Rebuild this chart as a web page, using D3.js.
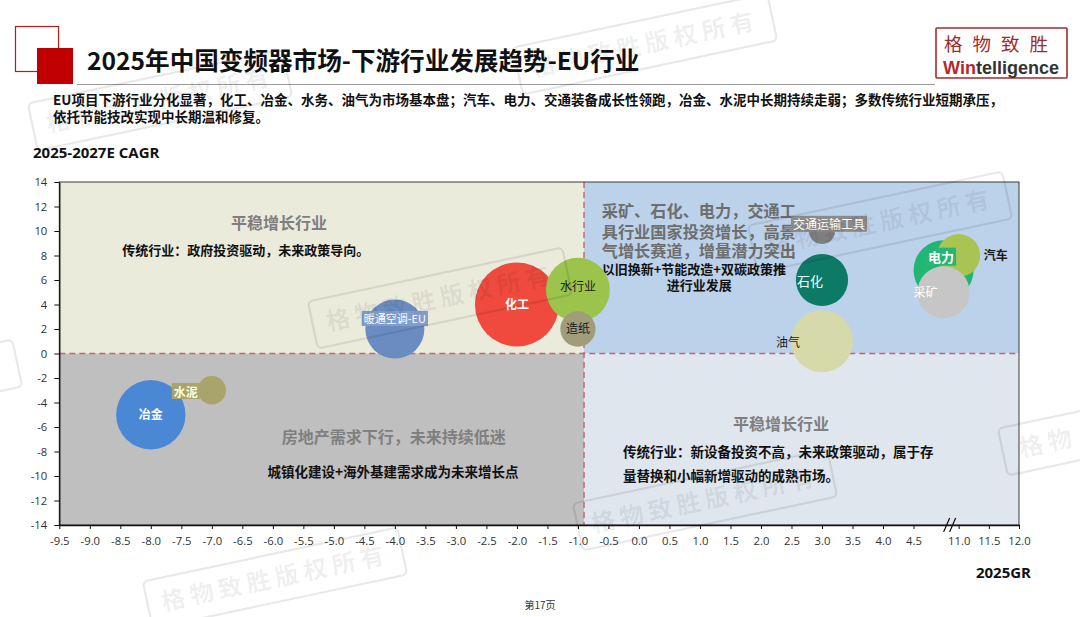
<!DOCTYPE html>
<html><head><meta charset="utf-8">
<script src="https://cdn.jsdelivr.net/npm/d3@7/dist/d3.min.js"></script>
<style>
html,body{margin:0;padding:0;background:#fff;}
svg{display:block;}
</style></head>
<body>
<svg id="chart" width="1080" height="617"></svg>
<script>
// ---------- DATA ----------
const categories = ["冶金","水泥","暖通空调-EU","化工","水行业","造纸","交通运输工具","石化","油气","电力","汽车","采矿"];
const gr2025 =     [-8.0, -7.0, -4.0, -2.0, -1.0, -1.0, 3.0, 3.0, 3.0, 10.75, 11.0, 10.75];
const cagr2527 =   [-5.0, -3.0,  2.0,  4.0,  5.2,  2.0, 10.0, 6.0, 1.0, 6.8, 8.0, 5.0];
const bubbleSize = [120, 20, 87, 176, 102, 31, 17, 68, 96, 90, 46, 68];
const xTickValues = [-9.5,-9.0,-8.5,-8.0,-7.5,-7.0,-6.5,-6.0,-5.5,-5.0,-4.5,-4.0,-3.5,-3.0,-2.5,-2.0,-1.5,-1.0,-0.5,0.0,0.5,1.0,1.5,2.0,2.5,3.0,3.5,4.0,4.5,11.0,11.5,12.0];
const yTickValues = [-14,-12,-10,-8,-6,-4,-2,0,2,4,6,8,10,12,14];
const xDivider = -0.9;
const yDivider = 0;

// ---------- STYLE ----------
const CJK = "'Noto Sans CJK SC','Noto Sans',sans-serif";
const LAT = "'Open Sans','Noto Sans',sans-serif";
const colors = {"冶金":"#4a88d6","水泥":"#a8a46c","暖通空调-EU":"#6b8cc0","化工":"#ef4a3d","水行业":"#9cc34b","造纸":"#a19d7b",
  "交通运输工具":"#7f7f7f","石化":"#0c7a67","油气":"#d6d9aa","电力":"#22b674","汽车":"#a8c452","采矿":"#c6c6c6"};
const labelStyle = {
  "冶金":{dx:0,dy:0,fill:"#fff",bold:true,size:12},
  "水泥":{dx:-26,dy:2,fill:"#fffbe0",bold:true,size:12,box:"#a8a46c"},
  "暖通空调-EU":{dx:0,dy:-9.5,fill:"#fff",bold:false,size:11,box:"#809dcc"},
  "化工":{dx:0,dy:0,fill:"#fff",bold:true,size:12},
  "水行业":{dx:0,dy:-3,fill:"#1a1a1a",bold:false,size:12},
  "造纸":{dx:0,dy:0,fill:"#1a1a1a",bold:false,size:12},
  "交通运输工具":{dx:7,dy:-6,fill:"#fff",bold:false,size:12,box:"#8a8a8a"},
  "石化":{dx:-12,dy:1,fill:"#fff",bold:false,size:13},
  "油气":{dx:-34,dy:1,fill:"#1a1a1a",bold:false,size:12},
  "电力":{dx:-2.5,dy:-12.7,fill:"#fff",bold:true,size:13,box:"#25b676"},
  "汽车":{dx:37,dy:0,fill:"#1a1a1a",bold:true,size:12},
  "采矿":{dx:-18,dy:0,fill:"#fff",bold:false,size:12}
};

const svg = d3.select("#chart");
const plot = {left:59.3, right:1019, top:182, bottom:525};

// piecewise x scale with axis break between 4.5 and 10.5
const x = d3.scaleLinear().domain([-9.5, 4.5, 10.5, 12.0]).range([plot.left, 913.5, 928.5, plot.right]);
const y = d3.scaleLinear().domain([-14, 14]).range([plot.bottom, plot.top]);
const r = d3.scaleSqrt().domain([0, d3.max(bubbleSize)]).range([0, 42]);

// ---------- HEADER ----------
svg.append("rect").attr("x",15.5).attr("y",26.5).attr("width",43).attr("height",45).attr("fill","none").attr("stroke","#b31d1d").attr("stroke-width",1.2);
svg.append("rect").attr("x",37).attr("y",48).attr("width",36).attr("height",36).attr("fill","#c00000");
svg.append("text").attr("x",87).attr("y",70).attr("font-family",CJK).attr("font-weight",700).attr("font-size",24.6).attr("fill","#111")
  .text("2025年中国变频器市场-下游行业发展趋势-EU行业");
svg.append("line").attr("x1",77).attr("x2",935).attr("y1",84.5).attr("y2",84.5).attr("stroke","#9a9a9a").attr("stroke-width",1);

// logo
const logo = svg.append("g");
logo.append("rect").attr("x",936).attr("y",28).attr("width",131).attr("height",50).attr("fill","#fff").attr("stroke","#a52a2a").attr("stroke-width",1.6).attr("rx",1);
logo.append("text").attr("x",1001).attr("y",51).attr("text-anchor","middle").attr("font-family",CJK).attr("font-weight",400).attr("font-size",18.5)
  .attr("letter-spacing",10).attr("fill","#9e2a2b").text("格物致胜");
const wt = logo.append("text").attr("x",1001).attr("y",73.5).attr("text-anchor","middle").attr("font-family","'Liberation Sans',Arial,sans-serif").attr("font-weight",700).attr("font-size",18);
wt.append("tspan").attr("fill","#b82828").text("Win");
wt.append("tspan").attr("fill","#333").text("telligence");

// subtitle
const sub = ["EU项目下游行业分化显著，化工、冶金、水务、油气为市场基本盘；汽车、电力、交通装备成长性领跑，冶金、水泥中长期持续走弱；多数传统行业短期承压，",
             "依托节能技改实现中长期温和修复。"];
const subT = svg.append("text").attr("font-family",CJK).attr("font-weight",700).attr("font-size",13.5).attr("fill","#111");
sub.forEach((t,i)=>{ subT.append("tspan").attr("x",53).attr("y",105+i*17).text(t); });

svg.append("text").attr("x",33).attr("y",158).attr("font-family",LAT).attr("font-weight",700).attr("font-size",15).attr("fill","#111").text("2025-2027E CAGR");

// ---------- QUADRANTS ----------
const xd = x(xDivider), yd = y(yDivider);
const quads = [
  {x0:plot.left,x1:xd,y0:plot.top,y1:yd,fill:"#ebebdc"},
  {x0:xd,x1:plot.right,y0:plot.top,y1:yd,fill:"#bcd2ea"},
  {x0:plot.left,x1:xd,y0:yd,y1:plot.bottom,fill:"#bfbfbf"},
  {x0:xd,x1:plot.right,y0:yd,y1:plot.bottom,fill:"#dfe6ee"}
];
svg.append("g").selectAll("rect").data(quads).join("rect")
  .attr("x",d=>d.x0).attr("y",d=>d.y0).attr("width",d=>d.x1-d.x0).attr("height",d=>d.y1-d.y0).attr("fill",d=>d.fill);

// divider dashed lines
svg.append("line").attr("x1",xd).attr("x2",xd).attr("y1",plot.top).attr("y2",plot.bottom)
  .attr("stroke","#c4646c").attr("stroke-width",1.4).attr("stroke-dasharray","6,4");
svg.append("line").attr("x1",plot.left).attr("x2",plot.right).attr("y1",yd).attr("y2",yd)
  .attr("stroke","#c4646c").attr("stroke-width",1.4).attr("stroke-dasharray","6,4");

// ---------- ANNOTATIONS ----------
const notes = [
  {size:16,fill:"#7f7f7f",lines:[{t:"平稳增长行业",gx:-5.9,gy:10.65,anchor:"middle"}]},
  {size:13,fill:"#111",lines:[{t:"传统行业：政府投资驱动，未来政策导向。",gx:-8.47,gy:8.45,anchor:"start"}]},
  {size:16.2,fill:"#6e6e6e",lines:[
    {t:"采矿、石化、电力，交通工",gx:-0.61,gy:11.58,anchor:"start"},
    {t:"具行业国家投资增长，高景",gx:-0.61,gy:9.94,anchor:"start"},
    {t:"气增长赛道，增量潜力突出",gx:-0.61,gy:8.35,anchor:"start"}]},
  {size:13,fill:"#111",lines:[
    {t:"以旧换新+节能改造+双碳政策推",gx:-0.61,gy:6.9,anchor:"start"},
    {t:"进行业发展",gx:0.99,gy:5.55,anchor:"middle"}]},
  {size:16,fill:"#7f7f7f",lines:[{t:"房地产需求下行，未来持续低迷",gx:-4.02,gy:-6.84,anchor:"middle"}]},
  {size:13.5,fill:"#111",lines:[{t:"城镇化建设+海外基建需求成为未来增长点",gx:-4.03,gy:-9.67,anchor:"middle"}]},
  {size:16,fill:"#7f7f7f",lines:[{t:"平稳增长行业",gx:2.33,gy:-5.76,anchor:"middle"}]},
  {size:13.5,fill:"#111",lines:[
    {t:"传统行业：新设备投资不高，未来政策驱动，属于存",gx:-0.26,gy:-8.02,anchor:"start"},
    {t:"量替换和小幅新增驱动的成熟市场。",gx:-0.26,gy:-10.0,anchor:"start"}]}
];
const ng = svg.append("g");
notes.forEach(n=>{
  const t = ng.append("text").attr("font-family",CJK).attr("font-weight",700).attr("font-size",n.size).attr("fill",n.fill);
  n.lines.forEach(l=>{
    t.append("tspan").attr("x",x(l.gx)).attr("y",y(l.gy)+n.size*0.36).attr("text-anchor",l.anchor).text(l.t);
  });
});

// ---------- BUBBLES ----------
const data = categories.map((c,i)=>({name:c,gx:gr2025[i],gy:cagr2527[i],s:bubbleSize[i]}));
svg.append("g").selectAll("circle").data(data).join("circle")
  .attr("cx",d=>x(d.gx)).attr("cy",d=>y(d.gy)).attr("r",d=>r(d.s)).attr("fill",d=>colors[d.name]);

const lg = svg.append("g");
data.forEach(d=>{
  const st = labelStyle[d.name];
  const g = lg.append("g");
  const tx = g.append("text").attr("x",x(d.gx)+st.dx).attr("y",y(d.gy)+st.dy).attr("dy","0.36em")
    .attr("text-anchor","middle").attr("font-family",CJK).attr("font-weight",st.bold?700:400)
    .attr("font-size",st.size).attr("fill",st.fill).text(d.name);
  if (st.box) {
    const b = tx.node().getBBox();
    g.insert("rect","text").attr("x",b.x-2).attr("y",b.y+0.5).attr("width",b.width+4).attr("height",b.height-1).attr("fill",st.box);
  }
});

// ---------- AXES ----------
svg.append("rect").attr("x",plot.left).attr("y",plot.top).attr("width",plot.right-plot.left).attr("height",plot.bottom-plot.top)
  .attr("fill","none").attr("stroke","#3a3a3a").attr("stroke-width",1);

const xAxis = svg.append("g").attr("transform",`translate(0,${plot.bottom})`)
  .call(d3.axisBottom(x).tickValues(xTickValues).tickFormat(d=>d.toFixed(1)).tickSize(4).tickPadding(8).tickSizeOuter(0));
const yAxis = svg.append("g").attr("transform",`translate(${plot.left},0)`)
  .call(d3.axisLeft(y).tickValues(yTickValues).tickFormat(d=>String(d)).tickSize(5).tickPadding(7).tickSizeOuter(0));
[xAxis,yAxis].forEach(a=>{
  a.select(".domain").attr("stroke","#111").attr("stroke-width",1.3);
  a.selectAll(".tick line").attr("stroke","#111");
  a.selectAll(".tick text").attr("font-family",LAT).attr("font-size",11.3).attr("fill","#333");
});

// axis break marks
const bx = x(10.85);
[-3,3].forEach(o=>{
  svg.append("line").attr("x1",bx+o-3).attr("x2",bx+o+3).attr("y1",plot.bottom+7).attr("y2",plot.bottom-7)
    .attr("stroke","#111").attr("stroke-width",1.2);
});

svg.append("text").attr("x",1031).attr("y",578).attr("text-anchor","end").attr("font-family",LAT).attr("font-weight",700).attr("font-size",15).attr("fill","#111").text("2025GR");
svg.append("text").attr("x",540).attr("y",609).attr("text-anchor","middle").attr("font-family",CJK).attr("font-size",10).attr("fill","#333").text("第17页");

// ---------- WATERMARKS ----------
const marks = [
  {cx:645,cy:44,t:"格物致胜版权所有"},{cx:440,cy:298,t:"格物致胜版权所有"},{cx:880,cy:222,t:"格物致胜版权所有"},
  {cx:705,cy:500,t:"格物致胜版权所有"},{cx:275,cy:578,t:"格物致胜版权所有"},{cx:160,cy:100,t:"格物致胜版权所有"},
  {cx:1130,cy:425,t:"格物",tx:-84},{cx:-110,cy:390,t:""}
];
const wm = svg.append("g").attr("pointer-events","none");
marks.forEach(m=>{
  const g = wm.append("g").attr("transform",`translate(${m.cx},${m.cy}) rotate(-12)`);
  g.append("rect").attr("x",-130).attr("y",-24).attr("width",260).attr("height",48).attr("rx",5)
    .attr("fill","none").attr("stroke","#000").attr("stroke-opacity",0.09).attr("stroke-width",2.2);
  if (m.t) g.append("text").attr("x",m.tx||0).attr("y",0).attr("dy","0.36em").attr("text-anchor","middle")
    .attr("font-family",CJK).attr("font-weight",700).attr("font-size",24).attr("letter-spacing",5)
    .attr("fill","#000").attr("fill-opacity",0.07).text(m.t);
});
</script>
</body></html>
